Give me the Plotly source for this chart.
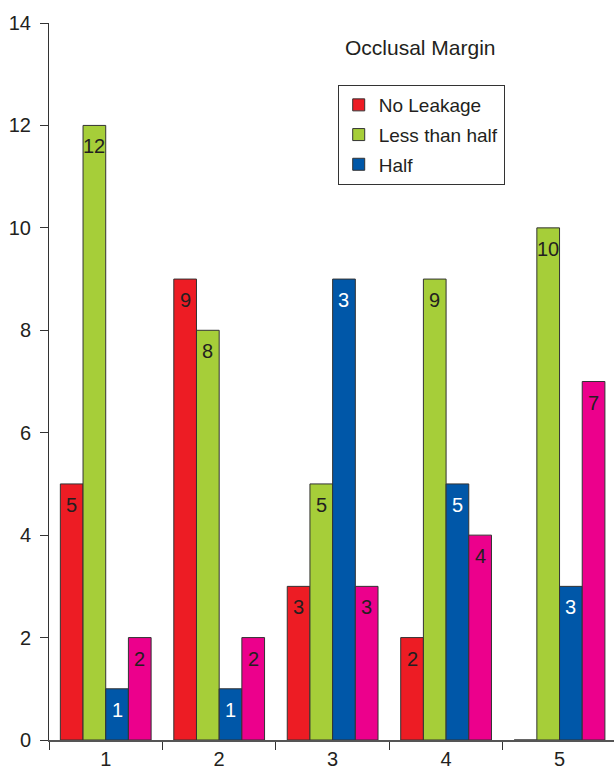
import plotly.graph_objects as go

# Number of teeth per leakage score, grouped by specimen group
groups = [1, 2, 3, 4, 5]
group_labels = ["1", "2", "3", "4", "5"]

series_names = ["No Leakage", "Less than half", "Half", "More than half"]
no_leakage = [5, 9, 3, 2, 0]
less_than_half = [12, 8, 5, 9, 10]
half = [1, 1, 9, 5, 3]
more_than_half = [2, 2, 3, 4, 7]

# Printed value labels on the bars (blank where a bar has no height)
no_leakage_labels = ["5", "9", "3", "2", ""]
less_than_half_labels = ["12", "8", "5", "9", "10"]
half_labels = ["1", "1", "3", "5", "3"]
more_than_half_labels = ["2", "2", "3", "4", "7"]

y_ticks = [0, 2, 4, 6, 8, 10, 12, 14]

colors = ["#ED1C24", "#A6CE39", "#0057A8", "#EC008C"]
label_colors = ["#231F20", "#231F20", "#FFFFFF", "#231F20"]
show_in_legend = [True, True, True, False]

values = [no_leakage, less_than_half, half, more_than_half]
labels = [no_leakage_labels, less_than_half_labels, half_labels, more_than_half_labels]

FONT = "Liberation Sans, Arial, sans-serif"
BARGAP = 0.2
n_series = len(values)
bar_w = (1 - BARGAP) / n_series

fig = go.Figure()
for i, (name, vals) in enumerate(zip(series_names, values)):
    fig.add_trace(go.Bar(
        x=groups, y=vals, name=name,
        marker=dict(color=colors[i], line=dict(color="#333333", width=1)),
        showlegend=show_in_legend[i],
        legendgroup=name,
        hoverinfo="skip",
    ))

# Value labels just below the top of each bar
annotations = []
for i, (vals, labs) in enumerate(zip(values, labels)):
    offset = (i - (n_series - 1) / 2) * bar_w
    for g, v, t in zip(groups, vals, labs):
        if not t:
            continue
        annotations.append(dict(
            x=g + offset, y=v, xref="x", yref="y", text=t, showarrow=False,
            yanchor="middle", yshift=-21,
            font=dict(family=FONT, size=20, color=label_colors[i]),
        ))

annotations.append(dict(
    x=0.658, y=0.9665, xref="paper", yref="paper", text="Occlusal Margin",
    showarrow=False, xanchor="center", yanchor="middle",
    font=dict(family=FONT, size=21, color="#231F20"),
))

fig.update_layout(
    width=614, height=771,
    margin=dict(l=49, r=0, t=23, b=31, autoexpand=False),
    paper_bgcolor="white", plot_bgcolor="white",
    barmode="group", bargap=BARGAP, bargroupgap=0,
    font=dict(family=FONT, size=20, color="#231F20"),
    annotations=annotations,
    legend=dict(
        x=0.511, y=0.9135, xanchor="left", yanchor="top",
        bordercolor="#333333", borderwidth=1, bgcolor="white",
        font=dict(family=FONT, size=19, color="#231F20"),
        traceorder="grouped", tracegroupgap=2,
    ),
    xaxis=dict(
        range=[0.5, 5.48], tickmode="array", tickvals=groups, ticktext=group_labels,
        ticks="", showline=True, linecolor="#555555", linewidth=1.5,
        showgrid=False, zeroline=False, ticklabelstandoff=0,
        minor=dict(tickmode="array", tickvals=[g - 0.5 for g in groups] + [groups[-1] + 0.5],
                   ticks="outside", ticklen=8, tickcolor="#333333", tickwidth=1),
        tickfont=dict(family=FONT, size=20, color="#231F20"),
    ),
    yaxis=dict(
        range=[0, 14], tickmode="array", tickvals=y_ticks,
        ticks="outside", ticklen=8, tickcolor="#333333", tickwidth=1,
        showline=True, linecolor="#333333", linewidth=1,
        showgrid=False, zeroline=False, ticklabelstandoff=5,
        tickfont=dict(family=FONT, size=20, color="#231F20"),
    ),
)

fig.write_html("out.html")
